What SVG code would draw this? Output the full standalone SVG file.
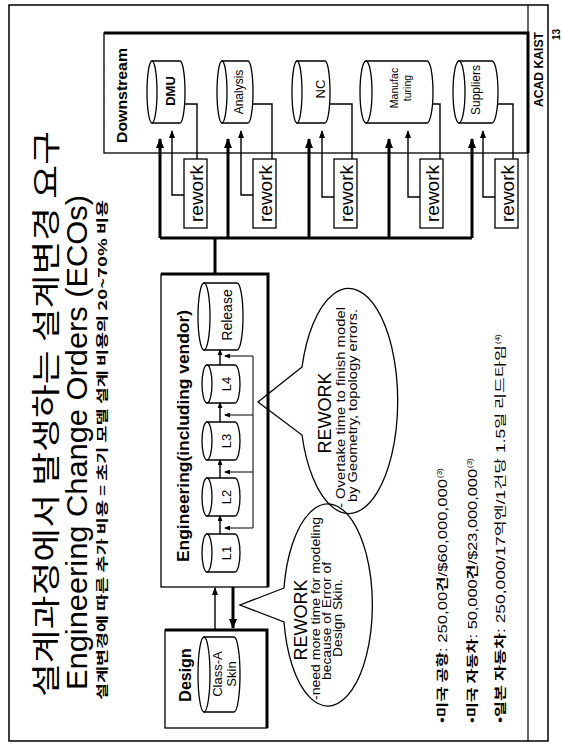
<svg xmlns="http://www.w3.org/2000/svg" width="562" height="745" viewBox="0 0 562 745">
<style>
text{font-family:"Liberation Sans",Arial,"Noto Sans CJK KR",sans-serif;fill:#000}
.kr{font-family:"Noto Sans CJK KR","Liberation Sans",sans-serif}
.box{fill:#fff;stroke:#000;stroke-width:1.3}
.sh{fill:none;stroke:#000;stroke-width:3}
.cyl{fill:#fff;stroke:#000;stroke-width:1.3}
.ln{fill:none;stroke:#000;stroke-width:1.4}
.thk{fill:none;stroke:#000;stroke-width:3}
.fb{fill:none;stroke:#000;stroke-width:1}
.co{fill:none;stroke:#000;stroke-width:1.3}
.rw{font-size:19px}
.cl{font-size:12px;text-anchor:middle}
</style>
<defs>
<marker id="ah" markerUnits="userSpaceOnUse" markerWidth="10" markerHeight="8" refX="9" refY="4" orient="auto"><path d="M0,0 L10,4 L0,8 z"/></marker>
<marker id="as" markerUnits="userSpaceOnUse" markerWidth="8" markerHeight="6" refX="7" refY="3" orient="auto"><path d="M0,0 L8,3 L0,6 z"/></marker>
<marker id="at" markerUnits="userSpaceOnUse" markerWidth="6" markerHeight="5" refX="5" refY="2.5" orient="auto"><path d="M0,0 L6,2.5 L0,5 z"/></marker>
</defs>
<rect width="562" height="745" fill="#fff"/>
<g transform="translate(0,745) rotate(-90)">
  <g id="frame">
    <rect x="4" y="9" width="736" height="539" fill="none" stroke="#000" stroke-width="1.5"/>
    <line x1="4" y1="528" x2="740" y2="528" stroke="#000" stroke-width="1.2"/>
    <text x="638" y="543" font-size="12" font-weight="bold" textLength="75" lengthAdjust="spacingAndGlyphs">ACAD KAIST</text>
    <text x="705" y="560" font-size="10" font-weight="bold">13</text>
  </g>
  <g id="title">
    <text class="kr" x="48" y="57" font-size="29" textLength="566" lengthAdjust="spacingAndGlyphs">설계과정에서 발생하는 설계변경 요구</text>
    <text x="55" y="87" font-size="30" textLength="495" lengthAdjust="spacingAndGlyphs">Engineering Change Orders (ECOs)</text>
    <text class="kr" x="45" y="107" font-size="12" font-weight="bold" textLength="500" lengthAdjust="spacingAndGlyphs">설계변경에 따른 추가 비용 = 초기 모델 설계 비용의 20~70% 비용</text>
  </g>
  <g id="downstream">
    <rect class="box" x="592" y="104" width="120" height="424"/>
    <path class="sh" d="M712,104 L712,528 L592,528"/>
    <text x="602" y="127" font-size="14" font-weight="bold" textLength="95" lengthAdjust="spacingAndGlyphs">Downstream</text>
  </g>
  <g id="dmu">
    <path class="cyl" d="M622,152 L622,180 A31,5 0 0 0 684,180 L684,152 Z"/>
    <ellipse class="cyl" cx="653" cy="152" rx="31" ry="5"/>
    <text x="654" y="175" font-size="13" font-weight="bold" text-anchor="middle">DMU</text>
  </g>
  <g id="analysis">
    <path class="cyl" d="M622,222 L622,248 A31,5 0 0 0 684,248 L684,222 Z"/>
    <ellipse class="cyl" cx="653" cy="222" rx="31" ry="5"/>
    <text x="653" y="243" font-size="12" text-anchor="middle">Analysis</text>
  </g>
  <g id="nc">
    <path class="cyl" d="M622,297 L622,325 A31,5 0 0 0 684,325 L684,297 Z"/>
    <ellipse class="cyl" cx="653" cy="297" rx="31" ry="5"/>
    <text x="656" y="325" font-size="13" text-anchor="middle">NC</text>
  </g>
  <g id="manufacturing">
    <path class="cyl" d="M622,366 L622,427 A31,6 0 0 0 684,427 L684,366 Z"/>
    <ellipse class="cyl" cx="653" cy="366" rx="31" ry="6"/>
    <text x="657" y="398" font-size="10.5" text-anchor="middle">Manufac</text>
    <text x="657" y="411" font-size="10.5" text-anchor="middle">turing</text>
  </g>
  <g id="suppliers">
    <path class="cyl" d="M622,459 L622,492 A31,6 0 0 0 684,492 L684,459 Z"/>
    <ellipse class="cyl" cx="653" cy="459" rx="31" ry="6"/>
    <text x="655" y="480" font-size="12" text-anchor="middle">Suppliers</text>
  </g>
  <g id="rework-dmu">
    <rect class="box" x="517" y="184" width="69" height="23"/>
    <text class="rw" x="551.5" y="203" text-anchor="middle">rework</text>
  </g>
  <g id="rework-analysis">
    <rect class="box" x="517" y="253" width="69" height="23"/>
    <text class="rw" x="551.5" y="272" text-anchor="middle">rework</text>
  </g>
  <g id="rework-nc">
    <rect class="box" x="517" y="334" width="69" height="23"/>
    <text class="rw" x="551.5" y="353" text-anchor="middle">rework</text>
  </g>
  <g id="rework-manufacturing">
    <rect class="box" x="517" y="420" width="69" height="23"/>
    <text class="rw" x="551.5" y="439" text-anchor="middle">rework</text>
  </g>
  <g id="rework-suppliers">
    <rect class="box" x="517" y="495" width="69" height="23"/>
    <text class="rw" x="551.5" y="514" text-anchor="middle">rework</text>
  </g>
  <g id="engineering">
    <rect class="box" x="158" y="161" width="313" height="107"/>
    <path class="sh" d="M471,161 L471,268 L158,268"/>
    <text x="183" y="189" font-size="16" font-weight="bold" textLength="252" lengthAdjust="spacingAndGlyphs">Engineering(including vendor)</text>
  </g>
  <g id="l1">
    <path class="cyl" d="M173,207 L173,235 A19,5 0 0 0 211,235 L211,207 Z"/>
    <ellipse class="cyl" cx="192" cy="207" rx="19" ry="5"/>
    <text x="192" y="231" font-size="13" text-anchor="middle">L1</text>
  </g>
  <g id="l2">
    <path class="cyl" d="M229,207 L229,235 A19,5 0 0 0 267,235 L267,207 Z"/>
    <ellipse class="cyl" cx="248" cy="207" rx="19" ry="5"/>
    <text x="248" y="231" font-size="13" text-anchor="middle">L2</text>
  </g>
  <g id="l3">
    <path class="cyl" d="M285,207 L285,235 A19,5 0 0 0 323,235 L323,207 Z"/>
    <ellipse class="cyl" cx="304" cy="207" rx="19" ry="5"/>
    <text x="304" y="231" font-size="13" text-anchor="middle">L3</text>
  </g>
  <g id="l4">
    <path class="cyl" d="M342,207 L342,235 A19,5 0 0 0 380,235 L380,207 Z"/>
    <ellipse class="cyl" cx="361" cy="207" rx="19" ry="5"/>
    <text x="361" y="231" font-size="13" text-anchor="middle">L4</text>
  </g>
  <g id="release">
    <path class="cyl" d="M395,204 L395,237 A33.5,6 0 0 0 462,237 L462,204 Z"/>
    <ellipse class="cyl" cx="428.5" cy="204" rx="33.5" ry="6"/>
    <text x="430" y="232" font-size="14" text-anchor="middle">Release</text>
  </g>
  <g id="design">
    <rect class="box" x="17" y="165" width="98" height="102"/>
    <path class="sh" d="M115,165 L115,267 L17,267"/>
    <text x="70" y="191" font-size="16" font-weight="bold" text-anchor="middle">Design</text>
  </g>
  <g id="class-a-skin">
    <path class="cyl" d="M33,204 L33,234 A37.5,6 0 0 0 108,234 L108,204 Z"/>
    <ellipse class="cyl" cx="70.5" cy="204" rx="37.5" ry="6"/>
    <text x="71" y="222" font-size="13" text-anchor="middle">Class-A</text>
    <text x="71" y="236" font-size="13" text-anchor="middle">Skin</text>
  </g>
  <g id="callout-engineering">
    <path class="co" d="M378,302 L343,258 L310,302 A112.5,49 0 1 0 378,302 Z"/>
    <text x="332" y="331" font-size="18" text-anchor="middle">REWORK</text>
    <text x="237" y="345" font-size="12.5" textLength="201" lengthAdjust="spacingAndGlyphs">- Overtake time to finish model</text>
    <text x="243" y="357" font-size="12.5" textLength="193" lengthAdjust="spacingAndGlyphs">by Geometry, topology errors.</text>
  </g>
  <g id="callout-design">
    <path class="co" d="M157,284 L140,240 L123,284 A101,44.5 0 1 0 157,284 Z"/>
    <text x="125" y="307" font-size="18" text-anchor="middle">REWORK</text>
    <text x="45" y="320" font-size="12.5" textLength="183" lengthAdjust="spacingAndGlyphs">-need more time for modeling</text>
    <text x="65" y="331" font-size="12.5" textLength="118" lengthAdjust="spacingAndGlyphs">because of Error of</text>
    <text x="88" y="342" font-size="12.5" textLength="78" lengthAdjust="spacingAndGlyphs">Design Skin.</text>
  </g>
  <g id="notes">
    <text x="22" y="447" font-size="12" textLength="244" lengthAdjust="spacingAndGlyphs">•<tspan class="kr" font-weight="bold">미국 공항</tspan>: 250,00<tspan class="kr" font-weight="bold">건</tspan>/$60,000,000</text>
    <text x="267" y="442" font-size="8">(3)</text>
    <text x="22" y="477" font-size="12" textLength="254" lengthAdjust="spacingAndGlyphs">•<tspan class="kr" font-weight="bold">미국 자동차</tspan>: 50,000<tspan class="kr" font-weight="bold">건</tspan>/$23,000,000</text>
    <text x="277" y="472" font-size="8">(3)</text>
    <text x="22" y="505" font-size="12" textLength="378" lengthAdjust="spacingAndGlyphs">•<tspan class="kr" font-weight="bold">일본 자동차</tspan>: 250,000/17<tspan class="kr">억엔</tspan>/1<tspan class="kr">건당</tspan> 1.5<tspan class="kr">일 리드타임</tspan></text>
    <text x="401" y="500" font-size="8">(4)</text>
  </g>
  <g id="connectors">
    <path class="thk" d="M471,215 L507,215 M507,160 L507,472"/>
    <path class="thk" d="M507,160 L606,160" marker-end="url(#ah)"/>
    <path class="thk" d="M507,228 L606,228" marker-end="url(#ah)"/>
    <path class="thk" d="M507,309 L606,309" marker-end="url(#ah)"/>
    <path class="thk" d="M507,389 L606,389" marker-end="url(#ah)"/>
    <path class="thk" d="M507,472 L606,472" marker-end="url(#ah)"/>
    <path class="ln" d="M641,185 L641,197 L586,197"/>
    <path class="ln" d="M550,184 L550,172 L614,172" marker-end="url(#as)"/>
    <path class="ln" d="M641,253 L641,272 L586,272"/>
    <path class="ln" d="M550,253 L550,241 L614,241" marker-end="url(#as)"/>
    <path class="ln" d="M641,330 L641,352 L586,352"/>
    <path class="ln" d="M548,334 L548,322 L614,322" marker-end="url(#as)"/>
    <path class="ln" d="M641,433 L641,440 L586,440"/>
    <path class="ln" d="M548,420 L548,408 L614,408" marker-end="url(#as)"/>
    <path class="ln" d="M641,498 L641,513 L586,513"/>
    <path class="ln" d="M548,495 L548,483 L614,483" marker-end="url(#as)"/>
    <path class="ln" d="M211,220 L229,220" marker-end="url(#at)"/>
    <path class="ln" d="M267,220 L285,220" marker-end="url(#at)"/>
    <path class="ln" d="M323,220 L342,220" marker-end="url(#at)"/>
    <path class="ln" d="M380,220 L395,220" marker-end="url(#at)"/>
    <path class="fb" d="M217,253 L389,253"/>
    <path class="fb" d="M217,253 L217,225" marker-end="url(#at)"/>
    <path class="fb" d="M273,253 L273,225" marker-end="url(#at)"/>
    <path class="fb" d="M330,253 L330,225" marker-end="url(#at)"/>
    <path class="fb" d="M389,253 L389,225" marker-end="url(#at)"/>
    <path class="ln" d="M115,215 L157,215" marker-end="url(#as)"/>
    <path class="thk" d="M158,233 L117,233" marker-end="url(#ah)"/>
  </g>
</g>
</svg>
